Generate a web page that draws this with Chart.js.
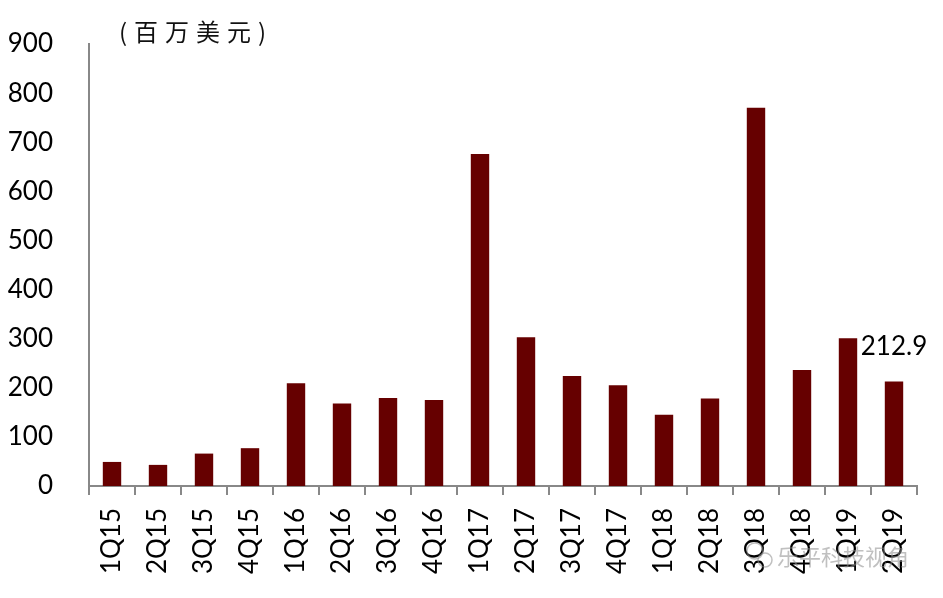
<!DOCTYPE html>
<html>
<head>
<meta charset="utf-8">
<script src="https://cdn.jsdelivr.net/npm/chart.js@4.4.1/dist/chart.umd.min.js"></script>
<style>
  html, body { margin: 0; padding: 0; background: #fff; }
  .wrap { width: 943px; height: 598px; position: relative; }
</style>
</head>
<body>
<div class="wrap"><canvas id="revChart" width="943" height="598"></canvas></div>
<script>
// quarters and revenue (millions USD)
const quarters = ["1Q15", "2Q15", "3Q15", "4Q15", "1Q16", "2Q16", "3Q16", "4Q16",
  "1Q17", "2Q17", "3Q17", "4Q17", "1Q18", "2Q18", "3Q18", "4Q18", "1Q19", "2Q19"];
const revenue = [49, 43, 66, 77, 209, 168, 179, 175, 676, 303, 224, 205, 145, 178, 770, 236, 301, 212.9];
const yTicks = [0, 100, 200, 300, 400, 500, 600, 700, 800, 900];
const unitLabel = "(百万美元)";
const labelledIndex = 17;
const watermark = "乐平科技视角";

const noPad = (scale) => {
  scale.paddingTop = 0;
  scale.paddingBottom = 0;
  scale.paddingLeft = 0;
  scale.paddingRight = 0;
};

const extraText = {
  id: "extraText",
  afterDraw(chart) {
    const ctx = chart.ctx;
    const area = chart.chartArea;
    ctx.save();
    // unit caption
    ctx.fillStyle = "#111";
    ctx.font = "24px 'Noto Sans CJK SC'";
    ctx.letterSpacing = "7px";
    ctx.textAlign = "left";
    ctx.textBaseline = "middle";
    ctx.fillText(unitLabel, area.left + 30, area.top - 12);
    ctx.letterSpacing = "0px";

    // value label on last bar
    const bar = chart.getDatasetMeta(0).data[labelledIndex];
    ctx.fillStyle = "#000";
    ctx.font = "26px Lato";
    ctx.textAlign = "center";
    ctx.fillText(revenue[labelledIndex].toFixed(1), bar.x, bar.y - 35);

    // watermark
    ctx.fillStyle = "rgba(140,140,140,0.55)";
    ctx.font = "22px 'Noto Sans CJK SC'";
    ctx.textAlign = "left";
    ctx.fillText(watermark, 777, 557);
    ctx.strokeStyle = "rgba(140,140,140,0.55)";
    ctx.lineWidth = 1.5;
    ctx.beginPath(); ctx.arc(755, 551, 8, 0, Math.PI * 2); ctx.stroke();
    ctx.beginPath(); ctx.arc(765, 560, 7, 0, Math.PI * 2); ctx.stroke();
    ctx.restore();
  }
};

new Chart(document.getElementById("revChart"), {
  type: "bar",
  data: {
    labels: quarters,
    datasets: [{
      data: revenue,
      backgroundColor: "#660000",
      borderWidth: 0,
      categoryPercentage: 1.0,
      barPercentage: 0.4
    }]
  },
  options: {
    responsive: false,
    animation: false,
    layout: { padding: { top: 44, right: 26, left: 0, bottom: 0 } },
    plugins: { legend: { display: false }, tooltip: { enabled: false } },
    scales: {
      x: {
        afterFit(scale) { scale.height = 112; noPad(scale); },
        grid: { display: true, drawOnChartArea: false, drawTicks: true, tickLength: 9, color: "#888", lineWidth: 2, offset: true },
        border: { color: "#888", width: 2 },
        ticks: { color: "#000", font: { family: "Lato", size: 26 }, minRotation: 90, maxRotation: 90, padding: 13, autoSkip: false }
      },
      y: {
        min: 0,
        max: 900,
        afterFit(scale) { scale.width = 89; noPad(scale); },
        afterBuildTicks(scale) { scale.ticks = yTicks.map(v => ({ value: v })); },
        grid: { display: false, drawTicks: false },
        border: { color: "#888", width: 2 },
        ticks: { color: "#000", font: { family: "Lato", size: 26 }, padding: 36 }
      }
    }
  },
  plugins: [extraText]
});
</script>
</body>
</html>
